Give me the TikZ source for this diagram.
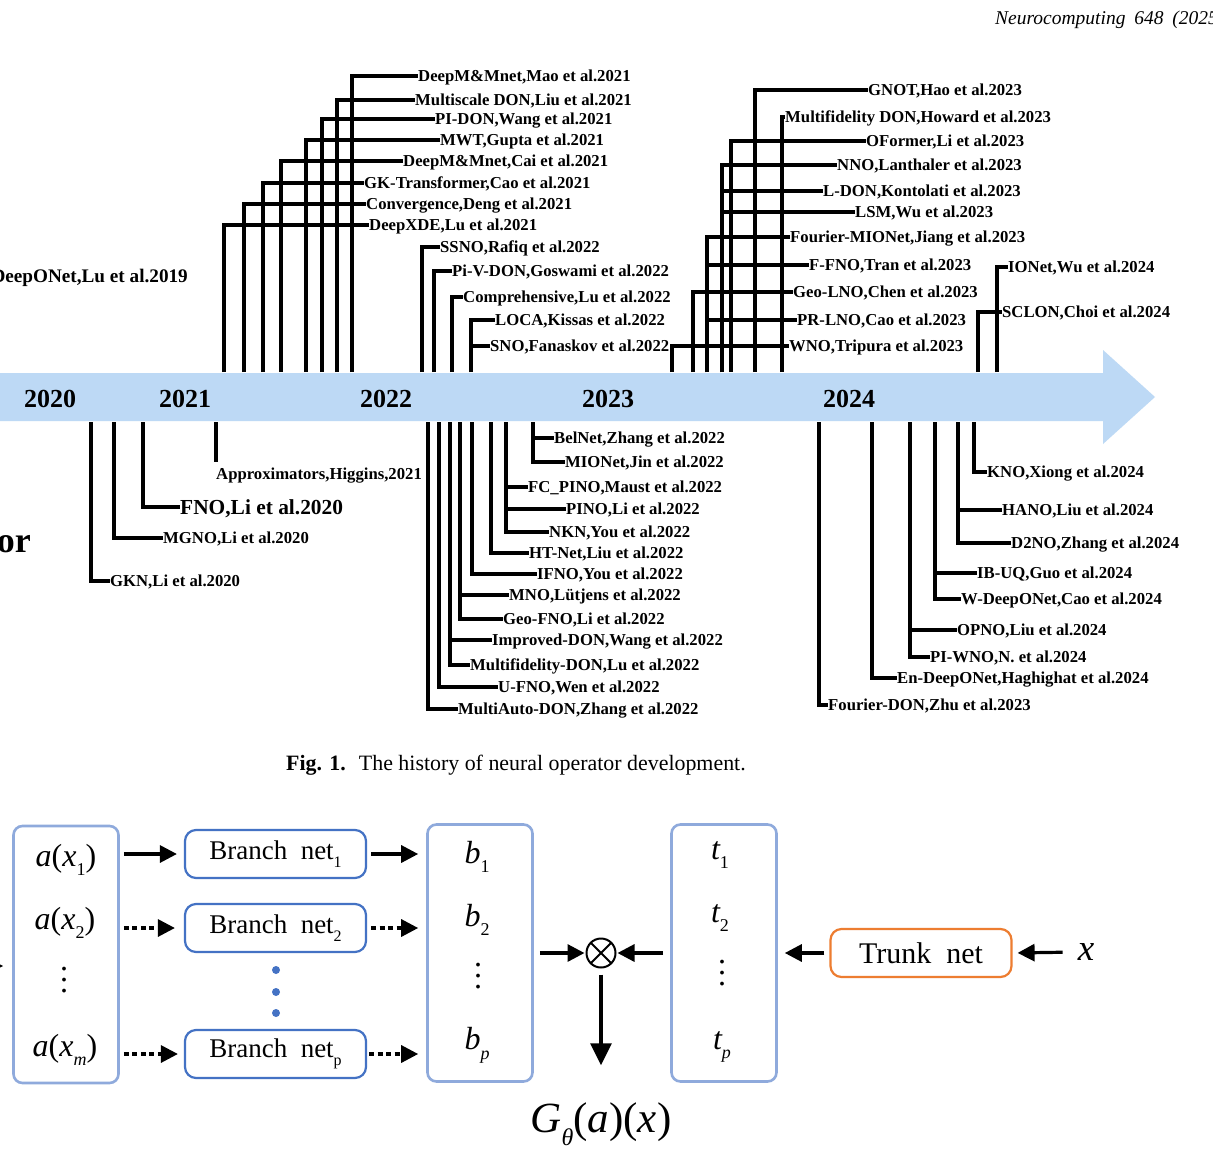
\documentclass[tikz,border=0pt]{standalone}
\usepackage{fontspec}
\setmainfont{Liberation Serif}
\usetikzlibrary{arrows.meta,positioning}

\definecolor{bandblue}{RGB}{189,217,245}
\definecolor{colblue}{RGB}{143,170,220}
\definecolor{netblue}{RGB}{68,114,196}
\definecolor{trunkorange}{RGB}{237,125,49}

% lowered index and a roomy vertical ellipsis
\newcommand{\lo}[2][16]{\raisebox{-0.3em}{\fontsize{#1}{#1}\selectfont #2}}
\newcommand{\vdts}{\vbox{\baselineskip=11pt\lineskiplimit=0pt\hbox{.}\hbox{.}\hbox{.}}}

\begin{document}
\begin{tikzpicture}[
  x=1pt,
  y=-1pt,
  lbl/.style={anchor=west, inner sep=0pt, text height=11pt, text depth=0pt, font=\bfseries\fontsize{16.7}{18}\selectfont},
  year/.style={inner sep=0pt, font=\bfseries\fontsize{26}{28}\selectfont},
  stem/.style={line width=3.2pt},
  col/.style={draw=colblue, line width=2.6pt, rounded corners=9pt, minimum width=105pt, minimum height=257pt},
  net/.style={draw=netblue, line width=2.2pt, rounded corners=11pt, minimum width=181pt, minimum height=48pt, inner sep=0pt, font=\fontsize{27}{27}\selectfont},
  trunknet/.style={net, draw=trunkorange, font=\fontsize{30}{30}\selectfont},
  ent/.style={inner sep=0pt, font=\fontsize{32}{32}\selectfont},
  arr/.style={-{Triangle[length=17pt,width=17pt]}, line width=3.2pt},
  darr/.style={arr, dash pattern=on 5pt off 3.5pt}
]
\useasboundingbox (0,0) rectangle (1213,1163);
\fill[white] (0,0) rectangle (1213,1163);
\clip (0,0) rectangle (1213,1163);

\node[anchor=base west, inner sep=0pt, font=\itshape\fontsize{19.5}{21}\selectfont] (journal) at (995,24) {\spaceskip=0.45em Neurocomputing 648 (2025)};

% timeline
\fill[bandblue] (-5,373) -- (1103,373) -- (1103,350) -- (1155,397) -- (1103,444) -- (1103,421) -- (-5,421) -- cycle;
\node[year] (y2020) at (50,399) {2020};
\node[year] (y2021) at (185,399) {2021};
\node[year] (y2022) at (386,399) {2022};
\node[year] (y2023) at (608,399) {2023};
\node[year] (y2024) at (849,399) {2024};

\coordinate (u224) at (224,372); \coordinate (u244) at (244,372); \coordinate (u263) at (263,372); \coordinate (u281) at (281,372);
\coordinate (u306) at (306,372); \coordinate (u322) at (322,372); \coordinate (u337) at (337,372); \coordinate (u352) at (352,372);
\coordinate (u422) at (422,372); \coordinate (u434) at (434,372); \coordinate (u452) at (452,372); \coordinate (u471) at (471,372);
\coordinate (u672) at (672,372); \coordinate (u693) at (693,372); \coordinate (u707) at (707,372); \coordinate (u722) at (722,372);
\coordinate (u731) at (731,372); \coordinate (u755) at (755,372); \coordinate (u782) at (782,372);
\coordinate (u978) at (978,372); \coordinate (u997) at (997,372);
\coordinate (d91) at (91,422); \coordinate (d114) at (114,422); \coordinate (d143) at (143,422); \coordinate (d216) at (216,422);
\coordinate (d428) at (428,422); \coordinate (d439) at (439,422); \coordinate (d450) at (450,422); \coordinate (d460) at (460,422);
\coordinate (d472) at (472,422); \coordinate (d491) at (491,422); \coordinate (d506) at (506,422); \coordinate (d533) at (533,422);
\coordinate (d819) at (819,422); \coordinate (d872) at (872,422); \coordinate (d910) at (910,422);
\coordinate (d935) at (935,422); \coordinate (d958) at (958,422); \coordinate (d974) at (974,422);

\node[anchor=base east, inner sep=0pt, font=\bfseries\fontsize{19.2}{21}\selectfont] (deeponet) at (188,282) {DeepONet,Lu et al.2019};
\node[anchor=base east, inner sep=0pt, font=\bfseries\fontsize{36}{38}\selectfont] (opr) at (31,552) {or};

% above the band
\node[lbl] (deepmm) at (418,76) {DeepM\&Mnet,Mao et al.2021};
\node[lbl] (msdon) at (415,100) {Multiscale DON,Liu et al.2021};
\node[lbl] (pidon) at (435,119) {PI-DON,Wang et al.2021};
\node[lbl] (mwt) at (440,140) {MWT,Gupta et al.2021};
\node[lbl] (deepmmc) at (403,161) {DeepM\&Mnet,Cai et al.2021};
\node[lbl] (gktrans) at (364,183) {GK-Transformer,Cao et al.2021};
\node[lbl] (conv) at (366,204) {Convergence,Deng et al.2021};
\node[lbl] (deepxde) at (369,225) {DeepXDE,Lu et al.2021};
\node[lbl] (ssno) at (440,247) {SSNO,Rafiq et al.2022};
\node[lbl] (pivdon) at (452,271) {Pi-V-DON,Goswami et al.2022};
\node[lbl] (compr) at (463,297) {Comprehensive,Lu et al.2022};
\node[lbl] (loca) at (495,320) {LOCA,Kissas et al.2022};
\node[lbl] (sno) at (490,346) {SNO,Fanaskov et al.2022};
\node[lbl] (gnot) at (868,90) {GNOT,Hao et al.2023};
\node[lbl] (mfdonh) at (785,117) {Multifidelity DON,Howard et al.2023};
\node[lbl] (oformer) at (866,141) {OFormer,Li et al.2023};
\node[lbl] (nno) at (837,165) {NNO,Lanthaler et al.2023};
\node[lbl] (ldon) at (823,191) {L-DON,Kontolati et al.2023};
\node[lbl] (lsm) at (855,212) {LSM,Wu et al.2023};
\node[lbl] (fmionet) at (790,237) {Fourier-MIONet,Jiang et al.2023};
\node[lbl] (ffno) at (809,265) {F-FNO,Tran et al.2023};
\node[lbl] (geolno) at (793,292) {Geo-LNO,Chen et al.2023};
\node[lbl] (prlno) at (797,320) {PR-LNO,Cao et al.2023};
\node[lbl] (wno) at (789,346) {WNO,Tripura et al.2023};
\node[lbl] (ionet) at (1008,267) {IONet,Wu et al.2024};
\node[lbl] (sclon) at (1002,312) {SCLON,Choi et al.2024};

\draw[stem] (u352) |- (deepmm.west);
\draw[stem] (u337) |- (msdon.west);
\draw[stem] (u322) |- (pidon.west);
\draw[stem] (u306) |- (mwt.west);
\draw[stem] (u281) |- (deepmmc.west);
\draw[stem] (u263) |- (gktrans.west);
\draw[stem] (u244) |- (conv.west);
\draw[stem] (u224) |- (deepxde.west);
\draw[stem] (u422) |- (ssno.west);
\draw[stem] (u434) |- (pivdon.west);
\draw[stem] (u452) |- (compr.west);
\draw[stem] (u471) |- (loca.west);
\draw[stem] (u471) |- (sno.west);
\draw[stem] (u755) |- (gnot.west);
\draw[stem] (u782) |- (mfdonh.west);
\draw[stem] (u731) |- (oformer.west);
\draw[stem] (u722) |- (nno.west);
\draw[stem] (u722) |- (ldon.west);
\draw[stem] (u722) |- (lsm.west);
\draw[stem] (u707) |- (fmionet.west);
\draw[stem] (u707) |- (ffno.west);
\draw[stem] (u693) |- (geolno.west);
\draw[stem] (u707) |- (prlno.west);
\draw[stem] (u672) |- (wno.west);
\draw[stem] (u997) |- (ionet.west);
\draw[stem] (u978) |- (sclon.west);

% below the band
\node[lbl] (gkn) at (110,581) {GKN,Li et al.2020};
\node[lbl] (mgno) at (163,538) {MGNO,Li et al.2020};
\node[lbl, text height=14.2pt, font=\bfseries\fontsize{21.4}{23}\selectfont] (fno) at (180,507) {FNO,Li et al.2020};
\node[lbl, anchor=north west] (approx) at (216,468) {Approximators,Higgins,2021};
\node[lbl] (belnet) at (554,438) {BelNet,Zhang et al.2022};
\node[lbl] (mionet) at (565,462) {MIONet,Jin et al.2022};
\node[lbl] (fcpino) at (528,487) {FC\_PINO,Maust et al.2022};
\node[lbl] (pino) at (566,509) {PINO,Li et al.2022};
\node[lbl] (nkn) at (549,532) {NKN,You et al.2022};
\node[lbl] (htnet) at (529,553) {HT-Net,Liu et al.2022};
\node[lbl] (ifno) at (537,574) {IFNO,You et al.2022};
\node[lbl] (mno) at (509,595) {MNO,Lütjens et al.2022};
\node[lbl] (geofno) at (503,619) {Geo-FNO,Li et al.2022};
\node[lbl] (impdon) at (492,640) {Improved-DON,Wang et al.2022};
\node[lbl] (mfdon) at (470,665) {Multifidelity-DON,Lu et al.2022};
\node[lbl] (ufno) at (498,687) {U-FNO,Wen et al.2022};
\node[lbl] (madon) at (458,709) {MultiAuto-DON,Zhang et al.2022};
\node[lbl] (kno) at (987,472) {KNO,Xiong et al.2024};
\node[lbl] (hano) at (1002,510) {HANO,Liu et al.2024};
\node[lbl] (dtwono) at (1011,543) {D2NO,Zhang et al.2024};
\node[lbl] (ibuq) at (977,573) {IB-UQ,Guo et al.2024};
\node[lbl] (wdon) at (961,599) {W-DeepONet,Cao et al.2024};
\node[lbl] (opno) at (957,630) {OPNO,Liu et al.2024};
\node[lbl] (piwno) at (930,657) {PI-WNO,N. et al.2024};
\node[lbl] (endon) at (897,678) {En-DeepONet,Haghighat et al.2024};
\node[lbl] (fdon) at (828,705) {Fourier-DON,Zhu et al.2023};

\draw[stem] (d91) |- (gkn.west);
\draw[stem] (d114) |- (mgno.west);
\draw[stem] (d143) |- (fno.west);
\draw[stem] (d216) -- ([yshift=6pt]approx.north west);
\draw[stem] (d533) |- (belnet.west);
\draw[stem] (d533) |- (mionet.west);
\draw[stem] (d506) |- (fcpino.west);
\draw[stem] (d506) |- (pino.west);
\draw[stem] (d506) |- (nkn.west);
\draw[stem] (d491) |- (htnet.west);
\draw[stem] (d472) |- (ifno.west);
\draw[stem] (d460) |- (mno.west);
\draw[stem] (d460) |- (geofno.west);
\draw[stem] (d450) |- (impdon.west);
\draw[stem] (d450) |- (mfdon.west);
\draw[stem] (d439) |- (ufno.west);
\draw[stem] (d428) |- (madon.west);
\draw[stem] (d974) |- (kno.west);
\draw[stem] (d958) |- (hano.west);
\draw[stem] (d958) |- (dtwono.west);
\draw[stem] (d935) |- (ibuq.west);
\draw[stem] (d935) |- (wdon.west);
\draw[stem] (d910) |- (opno.west);
\draw[stem] (d910) |- (piwno.west);
\draw[stem] (d872) |- (endon.west);
\draw[stem] (d819) |- (fdon.west);

\node[anchor=base west, inner sep=0pt, font=\fontsize{21.9}{23}\selectfont] (caption) at (286,770) {\textbf{Fig. 1.}\hspace{0.6em}The history of neural operator development.};

% DeepONet sketch
\node[col] (inp) at (66,954.5) {};
\node[ent] (ax1) at (66,860) {{\itshape a}({\itshape x}\lo[18]{1})};
\node[ent] (ax2) at (65,923) {{\itshape a}({\itshape x}\lo[18]{2})};
\node[ent] (adots) at (64,980) {\vdts};
\node[ent] (axm) at (65,1050) {{\itshape a}({\itshape x}\lo[18]{\itshape m})};

\node[net] (br1) at (275.5,854) {Branch\ \ net\lo{1}};
\node[net] (br2) at (275.5,928) {Branch\ \ net\lo{2}};
\node[net] (brp) at (275.5,1054) {Branch\ \ net\lo{p}};
\fill[netblue] (276,970) circle (4pt) (276,992) circle (4pt) (276,1013) circle (4pt);

\node[col] (bcol) at (480,953) {};
\node[ent] (b1) at (477,857) {{\itshape b}\lo[18]{1}};
\node[ent] (b2) at (477,920) {{\itshape b}\lo[18]{2}};
\node[ent] (bdots) at (478,976) {\vdts};
\node[ent] (bp) at (477,1045) {{\itshape b}\lo[18]{\itshape p}};

\node[circle, draw, line width=2pt, minimum size=29pt, inner sep=0pt,
  path picture={\draw[line width=2pt] (path picture bounding box.north west) -- (path picture bounding box.south east)
    (path picture bounding box.north east) -- (path picture bounding box.south west);}] (prod) at (601,953) {};
\node[ent, font=\fontsize{43}{43}\selectfont] (gout) at (601,1124) {{\itshape G}\lo[24]{\itshape θ}({\itshape a})({\itshape x})};

\node[col] (tcol) at (724,953) {};
\node[ent] (t1) at (720,855) {{\itshape t}\lo[18]{1}};
\node[ent] (t2) at (720,918) {{\itshape t}\lo[18]{2}};
\node[ent] (tdots) at (722,973) {\vdts};
\node[ent] (tp) at (722,1047) {{\itshape t}\lo[18]{\itshape p}};

\node[trunknet] (trunk) at (921,953) {Trunk\ \ net};
\node[ent, font=\itshape\fontsize{37}{37}\selectfont] (xin) at (1086,952) {x};
\coordinate (lin) at (-30,966);

\draw[arr, shorten >=9pt] (lin) -- (inp.west |- lin);
\draw[arr, shorten <=4pt, shorten >=7pt] (inp.east |- br1) -- (br1.west);
\draw[darr, shorten <=4pt, shorten >=9pt] (inp.east |- br2) -- (br2.west);
\draw[darr, shorten <=4pt, shorten >=6pt] (inp.east |- brp) -- (brp.west);
\draw[arr, shorten <=4pt, shorten >=8pt] (br1.east) -- (bcol.west |- br1);
\draw[darr, shorten <=4pt, shorten >=8pt] (br2.east) -- (bcol.west |- br2);
\draw[darr, shorten <=2pt, shorten >=8pt] (brp.east) -- (bcol.west |- brp);
\draw[arr, shorten <=6pt, shorten >=1pt] (bcol.east) -- (prod.west);
\draw[arr, shorten <=7pt, shorten >=1pt] (tcol.west) -- (prod.east);
\draw[arr, -{Triangle[length=22pt,width=21pt]}, shorten <=6pt, shorten >=37pt] (prod.south) -- (gout.north);
\draw[arr, shorten <=5pt, shorten >=7pt] (trunk.west) -- (tcol.east);
\draw[arr, shorten <=15pt, shorten >=5pt] (xin.west) -- (trunk.east);

\end{tikzpicture}
\end{document}
